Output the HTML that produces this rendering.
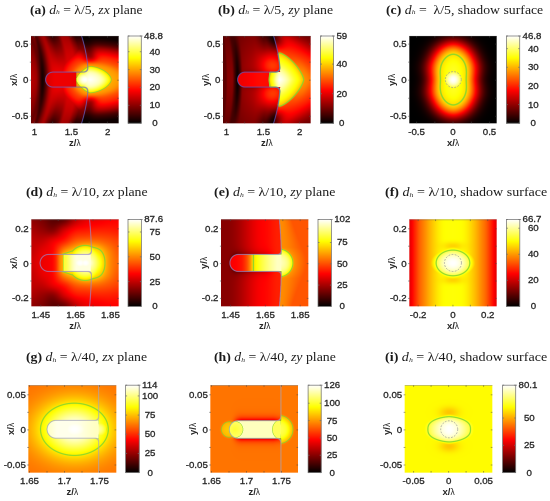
<!DOCTYPE html>
<html><head><meta charset="utf-8"><style>
html,body{margin:0;padding:0;background:#fff;}
body{width:550px;height:501px;position:relative;overflow:hidden;}
canvas{position:absolute;left:0;top:0;filter:blur(0.3px);}
.t{position:absolute;font-family:"Liberation Sans",sans-serif;font-size:9.7px;color:#262626;white-space:nowrap;line-height:1;-webkit-text-stroke:0.3px #262626;}
.ti{position:absolute;font-family:"Liberation Serif",serif;font-size:12.0px;color:#1a1a1a;white-space:nowrap;line-height:1;}
.ti b{font-weight:bold;}
.ti i{font-style:italic;}
.ti sub{font-size:0.55em;vertical-align:baseline;position:relative;top:0.05em;font-style:italic;}
.al{position:absolute;font-family:"Liberation Sans",sans-serif;font-size:9.5px;color:#262626;white-space:nowrap;line-height:1;}
.al b{font-weight:bold;}
.t,.ti,.al{filter:blur(0.25px);}
</style></head><body>
<canvas id="c" width="550" height="501"></canvas>

<div class="t" style="left:-15.6px;width:100px;text-align:center;top:126.95px">1</div>
<div class="t" style="left:21.4px;width:100px;text-align:center;top:126.95px">1.5</div>
<div class="t" style="left:57.6px;width:100px;text-align:center;top:126.95px">2</div>
<div class="t" style="left:-71.6px;width:100px;text-align:right;top:39.05px">0.5</div>
<div class="t" style="left:-71.6px;width:100px;text-align:right;top:74.95px">0</div>
<div class="t" style="left:-71.6px;width:100px;text-align:right;top:111.15px">-0.5</div>
<div class="t" style="white-space:pre;left:144.1px;top:30.95px">48.8</div>
<div class="t" style="white-space:pre;left:144.1px;top:46.67px">  40</div>
<div class="t" style="white-space:pre;left:144.1px;top:64.54px">  30</div>
<div class="t" style="white-space:pre;left:144.1px;top:82.41px">  20</div>
<div class="t" style="white-space:pre;left:144.1px;top:100.28px">  10</div>
<div class="t" style="white-space:pre;left:144.1px;top:118.15px">   0</div>
<div class="al" style="left:24.9px;width:100px;text-align:center;top:137.7px"><b>z/</b><span style="font-size:0.88em">λ</span></div>
<div class="al" style="left:-36.5px;width:100px;text-align:center;top:74.6px;transform:rotate(-90deg);transform-origin:50% 5px"><b>x/</b><span style="font-size:0.88em">λ</span></div>
<div class="ti" style="left:30.2px;top:4.01px;transform:scaleX(1.1351);transform-origin:0 0"><b>(a)</b> <i>d</i><sub>h</sub> = λ/5, <i>zx</i> plane</div>
<div class="t" style="left:176.4px;width:100px;text-align:center;top:127.05px">1</div>
<div class="t" style="left:213.4px;width:100px;text-align:center;top:127.05px">1.5</div>
<div class="t" style="left:249.6px;width:100px;text-align:center;top:127.05px">2</div>
<div class="t" style="left:120.4px;width:100px;text-align:right;top:39.05px">0.5</div>
<div class="t" style="left:120.4px;width:100px;text-align:right;top:74.95px">0</div>
<div class="t" style="left:120.4px;width:100px;text-align:right;top:111.15px">-0.5</div>
<div class="t" style="white-space:pre;left:336.4px;top:30.95px">59</div>
<div class="t" style="white-space:pre;left:336.4px;top:59.06px">40</div>
<div class="t" style="white-space:pre;left:336.4px;top:88.66px">20</div>
<div class="t" style="white-space:pre;left:336.4px;top:118.25px"> 0</div>
<div class="al" style="left:216.8px;width:100px;text-align:center;top:137.8px"><b>z/</b><span style="font-size:0.88em">λ</span></div>
<div class="al" style="left:155.5px;width:100px;text-align:center;top:74.65px;transform:rotate(-90deg);transform-origin:50% 5px"><b>y/</b><span style="font-size:0.88em">λ</span></div>
<div class="ti" style="left:217.7px;top:3.91px;transform:scaleX(1.1522);transform-origin:0 0"><b>(b)</b> <i>d</i><sub>h</sub> = λ/5, <i>zy</i> plane</div>
<div class="t" style="left:366.6px;width:100px;text-align:center;top:126.95px">-0.5</div>
<div class="t" style="left:403.05px;width:100px;text-align:center;top:126.95px">0</div>
<div class="t" style="left:439.5px;width:100px;text-align:center;top:126.95px">0.5</div>
<div class="t" style="left:306.7px;width:100px;text-align:right;top:39.05px">0.5</div>
<div class="t" style="left:306.7px;width:100px;text-align:right;top:74.95px">0</div>
<div class="t" style="left:306.7px;width:100px;text-align:right;top:111.15px">-0.5</div>
<div class="t" style="white-space:pre;left:522.5px;top:30.95px">46.8</div>
<div class="t" style="white-space:pre;left:522.5px;top:43.62px">  40</div>
<div class="t" style="white-space:pre;left:522.5px;top:62.25px">  30</div>
<div class="t" style="white-space:pre;left:522.5px;top:80.89px">  20</div>
<div class="t" style="white-space:pre;left:522.5px;top:99.52px">  10</div>
<div class="t" style="white-space:pre;left:522.5px;top:118.15px">   0</div>
<div class="al" style="left:403.05px;width:100px;text-align:center;top:137.7px"><b>x/</b><span style="font-size:0.88em">λ</span></div>
<div class="al" style="left:341.8px;width:100px;text-align:center;top:74.6px;transform:rotate(-90deg);transform-origin:50% 5px"><b>y/</b><span style="font-size:0.88em">λ</span></div>
<div class="ti" style="left:385.6px;top:4.01px;transform:scaleX(1.1490);transform-origin:0 0"><b>(c)</b> <i>d</i><sub>h</sub> =&nbsp; λ/5, shadow surface</div>
<div class="t" style="left:-9.2px;width:100px;text-align:center;top:310.15px">1.45</div>
<div class="t" style="left:25.6px;width:100px;text-align:center;top:310.15px">1.65</div>
<div class="t" style="left:60.4px;width:100px;text-align:center;top:310.15px">1.85</div>
<div class="t" style="left:-71.3px;width:100px;text-align:right;top:223.75px">0.2</div>
<div class="t" style="left:-71.3px;width:100px;text-align:right;top:258.55px">0</div>
<div class="t" style="left:-71.3px;width:100px;text-align:right;top:293.35px">-0.2</div>
<div class="t" style="white-space:pre;left:144.2px;top:214.45px">87.6</div>
<div class="t" style="white-space:pre;left:144.2px;top:226.95px">  75</div>
<div class="t" style="white-space:pre;left:144.2px;top:251.75px">  50</div>
<div class="t" style="white-space:pre;left:144.2px;top:276.55px">  25</div>
<div class="t" style="white-space:pre;left:144.2px;top:301.35px">   0</div>
<div class="al" style="left:25.05px;width:100px;text-align:center;top:320.9px"><b>z/</b><span style="font-size:0.88em">λ</span></div>
<div class="al" style="left:-36.2px;width:100px;text-align:center;top:257.95px;transform:rotate(-90deg);transform-origin:50% 5px"><b>x/</b><span style="font-size:0.88em">λ</span></div>
<div class="ti" style="left:25.5px;top:186.31px;transform:scaleX(1.1483);transform-origin:0 0"><b>(d)</b> <i>d</i><sub>h</sub> = λ/10, <i>zx</i> plane</div>
<div class="t" style="left:180.6px;width:100px;text-align:center;top:310.15px">1.45</div>
<div class="t" style="left:215.4px;width:100px;text-align:center;top:310.15px">1.65</div>
<div class="t" style="left:250.2px;width:100px;text-align:center;top:310.15px">1.85</div>
<div class="t" style="left:118.5px;width:100px;text-align:right;top:223.75px">0.2</div>
<div class="t" style="left:118.5px;width:100px;text-align:right;top:258.55px">0</div>
<div class="t" style="left:118.5px;width:100px;text-align:right;top:293.35px">-0.2</div>
<div class="t" style="white-space:pre;left:334.2px;top:214.45px">102</div>
<div class="t" style="white-space:pre;left:334.2px;top:237.45px"> 75</div>
<div class="t" style="white-space:pre;left:334.2px;top:258.75px"> 50</div>
<div class="t" style="white-space:pre;left:334.2px;top:280.05px"> 25</div>
<div class="t" style="white-space:pre;left:334.2px;top:301.35px">  0</div>
<div class="al" style="left:214.75px;width:100px;text-align:center;top:320.9px"><b>z/</b><span style="font-size:0.88em">λ</span></div>
<div class="al" style="left:153.6px;width:100px;text-align:center;top:257.95px;transform:rotate(-90deg);transform-origin:50% 5px"><b>y/</b><span style="font-size:0.88em">λ</span></div>
<div class="ti" style="left:213.6px;top:186.31px;transform:scaleX(1.1617);transform-origin:0 0"><b>(e)</b> <i>d</i><sub>h</sub> = λ/10, <i>zy</i> plane</div>
<div class="t" style="left:368.15px;width:100px;text-align:center;top:310.15px">-0.2</div>
<div class="t" style="left:402.95px;width:100px;text-align:center;top:310.15px">0</div>
<div class="t" style="left:437.75px;width:100px;text-align:center;top:310.15px">0.2</div>
<div class="t" style="left:306.6px;width:100px;text-align:right;top:223.75px">0.2</div>
<div class="t" style="left:306.6px;width:100px;text-align:right;top:258.55px">0</div>
<div class="t" style="left:306.6px;width:100px;text-align:right;top:293.35px">-0.2</div>
<div class="t" style="white-space:pre;left:522.6px;top:214.45px">66.7</div>
<div class="t" style="white-space:pre;left:522.6px;top:223.18px">  60</div>
<div class="t" style="white-space:pre;left:522.6px;top:249.24px">  40</div>
<div class="t" style="white-space:pre;left:522.6px;top:275.29px">  20</div>
<div class="t" style="white-space:pre;left:522.6px;top:301.35px">   0</div>
<div class="al" style="left:402.95px;width:100px;text-align:center;top:320.9px"><b>x/</b><span style="font-size:0.88em">λ</span></div>
<div class="al" style="left:341.7px;width:100px;text-align:center;top:257.95px;transform:rotate(-90deg);transform-origin:50% 5px"><b>y/</b><span style="font-size:0.88em">λ</span></div>
<div class="ti" style="left:384.6px;top:186.31px;transform:scaleX(1.1718);transform-origin:0 0"><b>(f)</b> <i>d</i><sub>h</sub> = λ/10, shadow surface</div>
<div class="t" style="left:-20.5px;width:100px;text-align:center;top:476.35px">1.65</div>
<div class="t" style="left:14.5px;width:100px;text-align:center;top:476.35px">1.7</div>
<div class="t" style="left:49.5px;width:100px;text-align:center;top:476.35px">1.75</div>
<div class="t" style="left:-74.2px;width:100px;text-align:right;top:389.75px">0.05</div>
<div class="t" style="left:-74.2px;width:100px;text-align:right;top:424.85px">0</div>
<div class="t" style="left:-74.2px;width:100px;text-align:right;top:459.95px">-0.05</div>
<div class="t" style="white-space:pre;left:142px;top:380.15px">114</div>
<div class="t" style="white-space:pre;left:142px;top:390.88px">100</div>
<div class="t" style="white-space:pre;left:142px;top:410.05px"> 75</div>
<div class="t" style="white-space:pre;left:142px;top:429.22px"> 50</div>
<div class="t" style="white-space:pre;left:142px;top:448.38px"> 25</div>
<div class="t" style="white-space:pre;left:142px;top:467.55px">  0</div>
<div class="al" style="left:22.3px;width:100px;text-align:center;top:487.1px"><b>z/</b><span style="font-size:0.88em">λ</span></div>
<div class="al" style="left:-39.1px;width:100px;text-align:center;top:423.9px;transform:rotate(-90deg);transform-origin:50% 5px"><b>x/</b><span style="font-size:0.88em">λ</span></div>
<div class="ti" style="left:26px;top:351.31px;transform:scaleX(1.1511);transform-origin:0 0"><b>(g)</b> <i>d</i><sub>h</sub> = λ/40, <i>zx</i> plane</div>
<div class="t" style="left:161.5px;width:100px;text-align:center;top:476.35px">1.65</div>
<div class="t" style="left:196.5px;width:100px;text-align:center;top:476.35px">1.7</div>
<div class="t" style="left:231.5px;width:100px;text-align:center;top:476.35px">1.75</div>
<div class="t" style="left:107.8px;width:100px;text-align:right;top:389.75px">0.05</div>
<div class="t" style="left:107.8px;width:100px;text-align:right;top:424.85px">0</div>
<div class="t" style="left:107.8px;width:100px;text-align:right;top:459.95px">-0.05</div>
<div class="t" style="white-space:pre;left:324px;top:380.15px">126</div>
<div class="t" style="white-space:pre;left:324px;top:398.18px">100</div>
<div class="t" style="white-space:pre;left:324px;top:415.53px"> 75</div>
<div class="t" style="white-space:pre;left:324px;top:432.87px"> 50</div>
<div class="t" style="white-space:pre;left:324px;top:450.21px"> 25</div>
<div class="t" style="white-space:pre;left:324px;top:467.55px">  0</div>
<div class="al" style="left:204.25px;width:100px;text-align:center;top:487.1px"><b>z/</b><span style="font-size:0.88em">λ</span></div>
<div class="al" style="left:142.9px;width:100px;text-align:center;top:423.9px;transform:rotate(-90deg);transform-origin:50% 5px"><b>y/</b><span style="font-size:0.88em">λ</span></div>
<div class="ti" style="left:213.6px;top:351.31px;transform:scaleX(1.1511);transform-origin:0 0"><b>(h)</b> <i>d</i><sub>h</sub> = λ/40, <i>zy</i> plane</div>
<div class="t" style="left:363.6px;width:100px;text-align:center;top:476.35px">-0.05</div>
<div class="t" style="left:398.6px;width:100px;text-align:center;top:476.35px">0</div>
<div class="t" style="left:433.6px;width:100px;text-align:center;top:476.35px">0.05</div>
<div class="t" style="left:302.2px;width:100px;text-align:right;top:389.75px">0.05</div>
<div class="t" style="left:302.2px;width:100px;text-align:right;top:424.85px">0</div>
<div class="t" style="left:302.2px;width:100px;text-align:right;top:459.95px">-0.05</div>
<div class="t" style="white-space:pre;left:518.5px;top:380.15px">80.1</div>
<div class="t" style="white-space:pre;left:518.5px;top:412.99px">  50</div>
<div class="t" style="white-space:pre;left:518.5px;top:440.27px">  25</div>
<div class="t" style="white-space:pre;left:518.5px;top:467.55px">   0</div>
<div class="al" style="left:398.6px;width:100px;text-align:center;top:487.1px"><b>x/</b><span style="font-size:0.88em">λ</span></div>
<div class="al" style="left:337.3px;width:100px;text-align:center;top:423.9px;transform:rotate(-90deg);transform-origin:50% 5px"><b>y/</b><span style="font-size:0.88em">λ</span></div>
<div class="ti" style="left:384.6px;top:351.31px;transform:scaleX(1.1769);transform-origin:0 0"><b>(i)</b> <i>d</i><sub>h</sub> = λ/40, shadow surface</div>
<script>
const P={"a": {"x0": 31.0, "y0": 36.0, "x1": 118.8, "y1": 123.2, "cb": [128.0, 141.3], "mx": 48.8, "cbt": [48.8, 40, 30, 20, 10, 0], "tx": [3.4, 21.65, 39.9, 58.15, 76.4], "ty": [8.1, 26.15, 44.2, 62.25, 80.3]}, "b": {"x0": 223.0, "y0": 36.0, "x1": 310.6, "y1": 123.3, "cb": [320.5, 333.6], "mx": 59, "cbt": [59, 40, 20, 0], "tx": [3.4, 21.65, 39.9, 58.15, 76.4], "ty": [8.1, 26.15, 44.2, 62.25, 80.3]}, "c": {"x0": 409.3, "y0": 36.0, "x1": 496.8, "y1": 123.2, "cb": [506.4, 519.7], "mx": 46.8, "cbt": [46.8, 40, 30, 20, 10, 0], "tx": [7.3, 25.55, 43.8, 62.05, 80.3], "ty": [8.1, 26.15, 44.2, 62.25, 80.3]}, "d": {"x0": 31.3, "y0": 219.5, "x1": 118.8, "y1": 306.4, "cb": [128.0, 141.4], "mx": 87.6, "cbt": [87.6, 75, 50, 25, 0], "tx": [9.5, 26.9, 44.3, 61.7, 79.1], "ty": [9.3, 26.7, 44.1, 61.5, 78.9]}, "e": {"x0": 221.1, "y0": 219.5, "x1": 308.4, "y1": 306.4, "cb": [318.0, 331.4], "mx": 102, "cbt": [102, 75, 50, 25, 0], "tx": [9.5, 26.9, 44.3, 61.7, 79.1], "ty": [9.3, 26.7, 44.1, 61.5, 78.9]}, "f": {"x0": 409.2, "y0": 219.5, "x1": 496.7, "y1": 306.4, "cb": [506.4, 519.8], "mx": 66.7, "cbt": [66.7, 60, 40, 20, 0], "tx": [8.95, 26.35, 43.75, 61.15, 78.55], "ty": [9.3, 26.7, 44.1, 61.5, 78.9]}, "g": {"x0": 28.4, "y0": 385.2, "x1": 116.2, "y1": 472.6, "cb": [125.6, 139.2], "mx": 114, "cbt": [114, 100, 75, 50, 25, 0], "tx": [1.1, 18.6, 36.1, 53.6, 71.1], "ty": [9.6, 27.15, 44.7, 62.25, 79.8]}, "h": {"x0": 210.4, "y0": 385.2, "x1": 298.1, "y1": 472.6, "cb": [308.1, 321.2], "mx": 126, "cbt": [126, 100, 75, 50, 25, 0], "tx": [1.1, 18.6, 36.1, 53.6, 71.1], "ty": [9.6, 27.15, 44.7, 62.25, 79.8]}, "i": {"x0": 404.8, "y0": 385.2, "x1": 492.4, "y1": 472.6, "cb": [502.6, 515.7], "mx": 80.1, "cbt": [80.1, 50, 25, 0], "tx": [8.8, 26.3, 43.8, 61.3, 78.8], "ty": [9.6, 27.15, 44.7, 62.25, 79.8]}};

(function(){
const W=550,H=501,SS=3;
const cv=document.getElementById('c');
const ctx=cv.getContext('2d');
const img=ctx.createImageData(W,H);
const D=img.data;
for(let i=0;i<D.length;i++)D[i]=255;
function cl(x,a,b){return x<a?a:(x>b?b:x);}
function sst(a,b,x){const t=cl((x-a)/(b-a),0,1);return t*t*(3-2*t);}
function hot(t){t=cl(t,0,1);return [cl(t/0.375,0,1)*255,cl((t-0.375)/0.375,0,1)*255,cl((t-0.75)/0.25,0,1)*255];}
function sdCap(x,y,xa,xb,cy,r){const px=cl(x,xa,xb);return Math.hypot(x-px,y-cy)-r;}
function smin(a,b,k){const h=cl(0.5+0.5*(b-a)/k,0,1);return b*(1-h)+a*h-k*h*(1-h);}
function pc(r,K){
  const n=K.length; if(r<=K[0][0])return K[0][1]; if(r>=K[n-1][0])return K[n-1][1];
  let i=1; while(K[i][0]<r)i++;
  const x0=K[i-1][0],x1=K[i][0],y0=K[i-1][1],y1=K[i][1],h=x1-x0,d=(y1-y0)/h;
  function tan(k){ if(k==0||k==n-1){ const a=K[Math.max(k-1,0)],b=K[Math.min(k+1,n-1)]; return (b[1]-a[1])/(b[0]-a[0]); }
    const d0=(K[k][1]-K[k-1][1])/(K[k][0]-K[k-1][0]), d1=(K[k+1][1]-K[k][1])/(K[k+1][0]-K[k][0]);
    if(d0*d1<=0) return 0; const w1=2*(K[k+1][0]-K[k][0])+(K[k][0]-K[k-1][0]), w2=(K[k+1][0]-K[k][0])+2*(K[k][0]-K[k-1][0]);
    return (w1+w2)/(w1/d0+w2/d1); }
  const m0=tan(i-1), m1=tan(i); const t=(r-x0)/h, t2=t*t, t3=t2*t;
  return (2*t3-3*t2+1)*y0+(t3-2*t2+t)*h*m0+(-2*t3+3*t2)*y1+(t3-t2)*h*m1;
}
function pl(r,K){ if(r<=K[0][0])return K[0][1]; for(let i=1;i<K.length;i++){if(r<=K[i][0]){const a=K[i-1],b=K[i];return a[1]+(b[1]-a[1])*(r-a[0])/(b[0]-a[0]);}} return K[K.length-1][1];}
function g2(u){return Math.exp(-u*u);}
function cr(p0,p1,p2,p3,t){return 0.5*((2*p1)+(-p0+p2)*t+(2*p0-5*p1+4*p2-p3)*t*t+(-p0+3*p1-3*p2+p3)*t*t*t);}
// G: rows from center outward (|dy| = j*dyS), cols lx = i*dxS
function grid(x,ady,G,dxS,dyS){
  const nr=G.length, nc=G[0].length;
  let fx=x/dxS, fy=ady/dyS;
  fx=cl(fx,0,nc-1.0001); fy=cl(fy,0,nr-1.0001);
  const i=Math.floor(fx), j=Math.floor(fy), tx=fx-i, ty=fy-j;
  const row=(jj)=>{jj=jj<0?-jj:jj; jj=Math.min(jj,nr-1); const R=G[jj];
    const a=R[Math.max(i-1,0)],b=R[i],c=R[Math.min(i+1,nc-1)],d=R[Math.min(i+2,nc-1)];
    return cr(a,b,c,d,tx);};
  return cr(row(j-1),row(j),row(j+1),row(j+2),ty);
}

const F={};
// (a) dh=l/5 zx
const KA_M=[[-8,0.27],[-3,0.24],[0,0.15],[3.5,0.03],[7,0.12],[11,0.27],[15,0.35],[20,0.37],[30,0.35],[40,0.38]];
const KA_T=[[0,0.15],[2,0.19],[5,0.12],[9,0.2],[12,0.24],[16,0.15],[21,0.07],[26,0.11],[31,0.24],[36,0.23],[40,0.14],[44,0.05]];
const KA_IN=[[0,1],[0.5,0.93],[0.8,0.8],[1,0.67]];
const KA_H=[[1,0.67],[1.16,0.56],[1.29,0.52],[1.6,0.45],[2,0.38],[2.5,0.25],[3,0.08],[3.5,0.0]];
const KA_F=[[0.6,0.64],[1,0.6],[1.4,0.49],[1.8,0.41],[2.25,0.27],[2.7,0.1],[3.1,0.02]];
const KA_V=[[1,0.67],[1.15,0.5],[1.37,0.43],[1.74,0.37],[2.18,0.25],[2.5,0.1],[2.8,0.03]];
F.a=function(x,y){
  const cy=43.6, dy=y-cy, ny=dy/cy, any=Math.abs(ny);
  const Xif=57.4-6.8*ny*ny;
  const sdc=sdCap(x,y,22.1,60,cy,7.5);
  const sd=smin(sdc, Xif-x, 5.5);
  const dx=x-59;
  const ax=dx>0?21.5:14, ay=13.4, pp=dx>0?1.7:1.4;
  const u=Math.abs(dx/ax), v=Math.abs(dy/ay);
  const r=Math.pow(Math.pow(u,pp)+Math.pow(v,pp),1/pp);
  let lobe;
  if(r<=1){ lobe=pc(r,KA_IN); lobe=Math.max(lobe, 1-0.45*Math.pow(Math.hypot((x-54)/12,dy/10),2)); }
  else { const rf=Math.hypot(dx/(dx>0?28:14),dy/13.4); lobe=Math.min(pc(rf,KA_F),0.64); }
  lobe*=1-0.5*g2((x-Xif-3)/7)*sst(14,24,Math.abs(dy));
  const phi=x-8*(1-ny*ny);
  const wt=Math.pow(any,1.5);
  let ring=pc(phi,KA_M)*(1-wt)+pc(phi,KA_T)*wt;
  if(x>Xif) ring=0.0;
  let t;
  if(sdc<0 && x<45.2){ t=0.32+0.03*sst(15,25,x); }
  else { t=Math.max(ring,lobe); }
  return [t,sd];
};
// (b) dh=l/5 zy
const KB_IN=[[0,1],[0.3,0.92],[0.6,0.8],[0.85,0.72],[1,0.64]];
const KB_V=[[1,0.6],[1.05,0.47],[1.2,0.43],[1.35,0.4],[1.6,0.34],[1.8,0.26],[2.0,0.18],[2.4,0.08]];
const KB_H=[[1,0.6],[1.05,0.585],[1.18,0.565],[1.4,0.51],[1.8,0.43],[2.2,0.3]];
const KB_M=[[0,0.14],[2,0.2],[6,0.2],[9,0.09],[11.5,0.02],[14,0.09],[17,0.22],[30,0.26],[40,0.3]];
const KB_T=[[0,0.12],[2,0.15],[5,0.15],[8,0.1],[11,0.11],[17,0.17],[30,0.19],[40,0.1]];
F.b=function(x,y){
  const cy=43.6, dy=y-cy, ny=dy/cy, any=Math.abs(ny);
  const Xif=57.4-6.8*ny*ny;
  const sdc=sdCap(x,y,22.1,60,cy,7.5);
  const sd=smin(sdc, Xif-x, 5.5);
  let t;
  const dx=x-56.5;
  const u=Math.abs(dx)/(dx>0?24.2:10.5), v=Math.abs(dy)/26.6;
  const r=Math.pow(Math.pow(u,1.4)+Math.pow(v,1.4),1/1.4);
  const clv=Math.max((r-1)*16, sd);
  if(sdc<0 && x<46){ t=0.35+0.04*sst(15,40,x); }
  else if(x>Xif || sdc<0){
    if(r<=1) t=pc(r,KB_IN);
    else { const w=v*v/(u*u+v*v+1e-9); t=pc(r,KB_V)*w+pc(r,KB_H)*(1-w); }
    t*=1-0.6*g2((x-Xif)/8)*sst(0.6,0.95,any);
  } else {
    const phi=x-3*(1-ny*ny);
    const wt=Math.pow(any,1.5);
    t=pc(phi,KB_M)*(1-wt)+pc(phi,KB_T)*wt;
    t+=0.2*g2((x-Xif+7)/13)*g2((Math.abs(dy)-15)/13);
    t*=1-0.8*sst(-10,0,x-Xif)*sst(0.6,0.95,any);
    if(sdc>0) t-=0.05*Math.exp(-sdc/2.5)*sst(10,30,x);
  }
  return [t,sd,clv];
};
// (c) shadow surface l/5
F.c=function(x,y){
  const dx=x-44, dy=y-43.6;
  const ax=13.0*(1+0.035*g2((Math.abs(dy)-14)/8)-0.02*g2(dy/6));
  const u=Math.abs(dx)/ax, v=Math.abs(dy)/25.2;
  const q=Math.pow(u,1.85)+Math.pow(v,2.9);
  let t= q<=1 ? 0.785-0.085*q : 0.7*Math.exp(-0.296*Math.pow(q-1,1.4));
  const rho=Math.hypot(dx,dy);
  t=Math.max(t, 1-0.2*(rho/8)*(rho/8));
  return [t,null];
};
// (d) dh=l/10 zx
const GD=[[0.31,0.35,0.41,0.75,0.90,1.00,0.83,0.60,0.52],
          [0.29,0.34,0.39,0.60,0.70,0.80,0.72,0.58,0.50],
          [0.28,0.29,0.35,0.42,0.51,0.54,0.53,0.50,0.47],
          [0.25,0.22,0.20,0.31,0.39,0.41,0.42,0.42,0.41],
          [0.21,0.18,0.13,0.15,0.27,0.34,0.35,0.37,0.38]];
F.d=function(x,y){
  const cy=43.45, dy=y-cy, ny=dy/cy;
  const Xif=60.3-2.0*ny*ny;
  const sdc=sdCap(x,y,17.3,70,cy,8.5);
  const sd=smin(sdc, Xif-x, 4);
  let t=grid(x,Math.abs(dy),GD,11,10.86);
  const r=Math.hypot(x-54,dy)/17.5;
  if(r<1.4) t=Math.max(t,pc(r,[[0,1],[0.6,0.86],[1,0.66],[1.12,0.55],[1.4,0.45]]));
  if(r<1) t=Math.max(t, 1-0.3*Math.pow((x-49)/14,2)-0.35*Math.pow(dy/12,2));
  if(sdc<0 && x<Xif-1){
    if(x<32) t=pc(x,[[0,0.33],[12,0.35],[20,0.37],[24,0.42],[29,0.58],[31.9,0.63]]);
    else t=Math.max(t,0.8+0.17*sst(32,46,x));
  } else if(sdc>=0 && x>=31 && x<52){
    const h=0.36*(x-31);
    let tw = sdc<=h ? 0.66+0.06*(1-sdc/Math.max(h,0.1)) : 0.66-0.04*(sdc-h);
    t=Math.max(t,tw);
  }
  return [t,sd];
};
// (e) dh=l/10 zy
F.e=function(x,y){
  const cy=43.45, dy=y-cy, ny=dy/cy;
  const Xif=60.3-2.0*ny*ny;
  const sdc=sdCap(x,y,17.3,70,cy,8.5);
  const sd=smin(sdc, Xif-x, 4);
  let t;
  if(x>=Xif){
    const dx=x-58, r=Math.hypot(dx/13.5,dy/13.5);
    const bg=0.58-0.08*sst(0,28,x-Xif)-0.1*ny*ny*sst(0,25,x-Xif);
    t=Math.max(bg, pc(r,[[0,0.95],[0.6,0.88],[1,0.72],[1.1,0.6],[1.3,0.57],[2,0.5]]));
  } else if(sdc<0){
    t=pc(x,[[0,0.36],[12,0.37],[20,0.4],[25,0.47],[29,0.58],[31.5,0.68],[38,0.78],[48,0.88],[56,0.94]]);
  } else {
    t=0.2+0.18*sst(5,45,x)+0.04*sst(42,58,x);
    t-=0.04*(1-sst(0,0.6,Math.abs(ny)))*(1-sst(20,50,x))*0; 
    t-=0.09*Math.exp(-sdc/3)*(1-sst(40,58,x))*sst(5,15,x);
  }
  return [t,sd];
};
// (f) shadow surface l/10
F.f=function(x,y){
  const dx=x-43.75, dy=y-43.45;
  let base=pc(Math.abs(dx),[[0,0.755],[8,0.75],[13,0.73],[18,0.69],[23,0.64],[28,0.58],[33,0.52],[38,0.43],[43,0.34],[45,0.32]]);
  base-=0.07*g2(dx/10)*g2((Math.abs(dy)-17)/4);
  const r2=(dx/16.8)*(dx/16.8)+(dy/12.8)*(dy/12.8);
  const core=1-0.2*r2;
  return [Math.max(base,core),null];
};
// (g) dh=l/40 zx
F.g=function(x,y){
  const cy=44.1, dy=y-cy;
  const Xif=70.3;
  const sdc=sdCap(x,y,27.6,80,cy,8.9);
  const sd=smin(sdc, Xif-x, 4);
  const dx=x-46;
  const r2=(dx/34.5)*(dx/34.5)+(dy/26.6)*(dy/26.6);
  let t=0.54+0.46*Math.exp(-0.973*r2);
  if(sdc<0 && x<Xif) t=Math.max(t, 0.98-0.04*sst(45,70,x)-0.03*(1-sst(20,30,x)));
  if(x>=Xif) t=Math.max(t, 0.9*Math.exp(-Math.pow(Math.hypot((x-Xif)/9,dy/9),2)*0.25));
  return [t,sd];
};
// (h) dh=l/40 zy
F.h=function(x,y){
  const cy=44.3, dy=y-cy;
  const Xif=70.5;
  const sdc=sdCap(x,y,27.7,80,cy,8.8);
  const sd=smin(sdc, Xif-x, 4.5);
  let t=0.545;
  if(x>=Xif){
    const r=Math.hypot(x-68.5,dy)/13.6;
    t=Math.max(0.545, pc(r,[[0,0.84],[0.5,0.8],[0.85,0.7],[1,0.64],[1.06,0.58],[1.2,0.55]]));
  } else if(sdc<0){
    t=0.935;
    const rl=Math.hypot(x-24.4,dy)/8.2;
    if(rl<1) t=0.8+0.05*rl;
    if(Math.hypot(x-73,dy)<11) t=Math.min(t,0.84);
  } else {
    t=0.545-0.25*Math.exp(-sdc/3.0)*sst(19,32,x)*(1-0.3*sst(62,70,x));
    const r=Math.hypot(x-18.8,dy)/7.5;
    if(r<1.3) t=Math.max(t, pc(r,[[0,0.68],[0.8,0.65],[1,0.62],[1.08,0.57],[1.3,0.55]]));
  }
  return [t,sd];
};
// (i) shadow surface l/40
F.i=function(x,y){
  const dx=x-44.4, dy=y-44.1;
  let base=0.745-0.08*g2(dx/9.5)*g2((Math.abs(dy)-17)/5.5);
  const u=Math.abs(dx)/21.3, v=Math.abs(dy)/12.6;
  const r=Math.pow(Math.pow(u,1.6)+Math.pow(v,2.6),1/2);
  const core=1-0.2*r*r;
  return [Math.max(base,core),null];
};
const LEV={a:[0.67],b:[0.55],c:[0.7],d:[0.66],e:[0.7],f:[0.8],g:[0.72],h:[0.6,0.87],i:[0.8]};
const OUTC={a:[100,100,205],b:[90,90,200],d:[150,135,205],e:[150,135,205],g:[165,165,190],h:[165,165,190]};
const GREEN=[130,215,45];

for(const k in P){
  const p=P[k];
  const f=F[k];
  const X0=Math.floor(p.x0), X1=Math.ceil(p.x1), Y0=Math.floor(p.y0), Y1=Math.ceil(p.y1);
  const gw=(X1-X0)*SS+2, gh=(Y1-Y0)*SS+2;
  const T=new Float32Array(gw*gh), S=new Float32Array(gw*gh), CL=new Float32Array(gw*gh); let hasCL=false;
  for(let j=0;j<gh;j++)for(let i=0;i<gw;i++){
    const px=X0+(i-1+0.5)/SS, py=Y0+(j-1+0.5)/SS;
    const r=f(px-p.x0,py-p.y0);
    T[j*gw+i]=r[0]; S[j*gw+i]=(r[1]===null||r[1]===undefined)?1e9:r[1]; if(r.length>2){CL[j*gw+i]=r[2];hasCL=true;}
  }
  const lev=LEV[k], oc=OUTC[k];
  for(let py=Y0;py<Y1;py++)for(let px=X0;px<X1;px++){
    let R=0,G=0,B=0;
    for(let sj=0;sj<SS;sj++)for(let si=0;si<SS;si++){
      const sx=px+(si+0.5)/SS, sy=py+(sj+0.5)/SS;
      if(sx<p.x0||sx>p.x1||sy<p.y0||sy>p.y1){R+=255;G+=255;B+=255;continue;}
      const i=(px-X0)*SS+si+1, j=(py-Y0)*SS+sj+1, id=j*gw+i;
      const t=T[id];
      let c=hot(t);
      let dd=1e9;
      if(hasCL){ const gx=(CL[id+1]-CL[id-1])*SS/2, gy=(CL[id+gw]-CL[id-gw])*SS/2; const g=Math.hypot(gx,gy)+1e-6; dd=Math.abs(CL[id])/g; }
      else { const gx=(T[id+1]-T[id-1])*SS/2, gy=(T[id+gw]-T[id-gw])*SS/2;
      const g=Math.hypot(gx,gy)+1e-6;
      for(const L of lev){dd=Math.min(dd,Math.abs(t-L)/g);} }
      let a=cl(1.0-(dd-0.36)/0.5,0,1)*0.88;
      if(a>0){c=[c[0]*(1-a)+GREEN[0]*a,c[1]*(1-a)+GREEN[1]*a,c[2]*(1-a)+GREEN[2]*a];}
      if(oc){const s=S[id]; const b=cl(1.0-(Math.abs(s)-0.25)/0.5,0,1)*0.75; if(b>0){c=[c[0]*(1-b)+oc[0]*b,c[1]*(1-b)+oc[1]*b,c[2]*(1-b)+oc[2]*b];}}
      R+=c[0];G+=c[1];B+=c[2];
    }
    const n=SS*SS, o=(py*W+px)*4;
    D[o]=R/n;D[o+1]=G/n;D[o+2]=B/n;D[o+3]=255;
  }
  const cx0=p.cb[0], cx1=p.cb[1];
  for(let py=Y0;py<Y1;py++)for(let px=Math.floor(cx0);px<Math.ceil(cx1);px++){
    let R=0,G=0,B=0;
    for(let sj=0;sj<SS;sj++)for(let si=0;si<SS;si++){
      const sx=px+(si+0.5)/SS, sy=py+(sj+0.5)/SS;
      if(sx<cx0||sx>cx1||sy<p.y0||sy>p.y1){R+=255;G+=255;B+=255;continue;}
      const c=hot((p.y1-sy)/(p.y1-p.y0));
      R+=c[0];G+=c[1];B+=c[2];
    }
    const n=SS*SS,o=(py*W+px)*4;
    D[o]=R/n;D[o+1]=G/n;D[o+2]=B/n;D[o+3]=255;
  }
}
ctx.putImageData(img,0,0);
ctx.lineWidth=0.8;
for(const k in P){
  const p=P[k];
  ctx.strokeStyle='rgba(110,110,110,0.9)';
  ctx.strokeRect(p.cb[0],p.y0,p.cb[1]-p.cb[0],p.y1-p.y0);
  ctx.beginPath();
  for(const v of p.cbt){const y=p.y1-(p.y1-p.y0)*v/p.mx; ctx.moveTo(p.cb[1]-1.5,y);ctx.lineTo(p.cb[1],y);ctx.moveTo(p.cb[0],y);ctx.lineTo(p.cb[0]+1.5,y);}
  ctx.moveTo(p.cb[1],p.y0);ctx.lineTo(p.cb[1]+1.3,p.y0);
  ctx.stroke();
}
// axes ticks + top border
for(const k in P){
  const p=P[k];
  ctx.lineWidth=0.7; ctx.strokeStyle='rgba(70,70,70,0.75)';
  ctx.beginPath();
  for(const tx of p.tx){const X=p.x0+tx; ctx.moveTo(X,p.y0);ctx.lineTo(X,p.y0+1.6);ctx.moveTo(X,p.y1);ctx.lineTo(X,p.y1-1.6);}
  for(const ty of p.ty){const Y=p.y0+ty; ctx.moveTo(p.x0-1.2,Y);ctx.lineTo(p.x0+0.6,Y);ctx.moveTo(p.x1,Y);ctx.lineTo(p.x1-1.6,Y);}
  ctx.stroke();
  ctx.lineWidth=0.6; ctx.strokeStyle='rgba(90,90,90,0.6)';
  ctx.beginPath(); ctx.moveTo(p.x0,p.y0+0.3); ctx.lineTo(p.x1,p.y0+0.3); ctx.stroke();
}
ctx.setLineDash([1.8,1.4]);ctx.lineWidth=0.8;ctx.strokeStyle='rgba(150,150,150,0.9)';
for(const k of ['c','f','i']){const p=P[k];ctx.beginPath();ctx.arc(p.x0+(k=='i'?44.4:(k=='c'?44:43.75)),p.y0+(k=='c'?43.6:(k=='f'?43.45:44.1)),k=='c'?8:8.5,0,2*Math.PI);ctx.stroke();}
ctx.setLineDash([]);
})();

</script>
</body></html>
